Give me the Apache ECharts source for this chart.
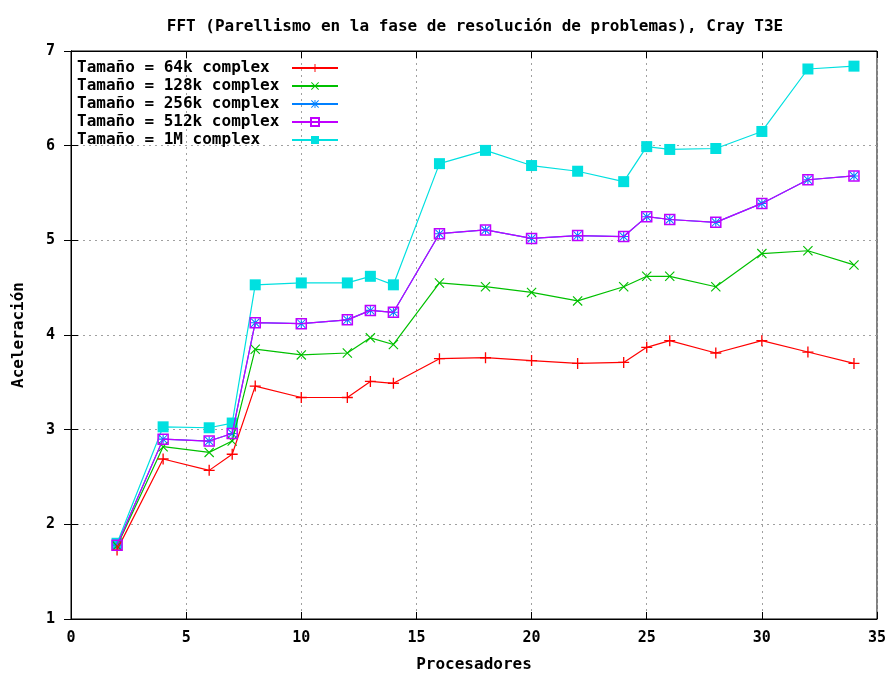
<!DOCTYPE html>
<html>
<head>
<meta charset="utf-8">
<script src="https://cdn.jsdelivr.net/npm/echarts@6/dist/echarts.min.js"></script>
<style>html,body{margin:0;padding:0;background:#fff}#c{width:891px;height:673px}</style>
</head>
<body>
<div id="c"></div>
<script>
const titleText = 'FFT (Parellismo en la fase de resolución de problemas), Cray T3E';
const xName = 'Procesadores';
const yName = 'Aceleración';
const procs = [2,4,6,7,8,10,12,13,14,16,18,20,22,24,25,26,28,30,32,34];
const names = ['Tamaño = 64k complex','Tamaño = 128k complex','Tamaño = 256k complex','Tamaño = 512k complex','Tamaño = 1M complex'];
const s64k  = [1.73,2.69,2.57,2.74,3.46,3.34,3.34,3.51,3.49,3.75,3.76,3.73,3.70,3.71,3.87,3.94,3.81,3.94,3.82,3.70];
const s128k = [1.77,2.82,2.76,2.88,3.85,3.79,3.81,3.97,3.90,4.55,4.51,4.45,4.36,4.51,4.62,4.62,4.51,4.86,4.89,4.74];
const s256k = [1.78,2.90,2.88,2.96,4.13,4.12,4.16,4.26,4.24,5.07,5.11,5.02,5.05,5.04,5.25,5.22,5.19,5.39,5.64,5.68];
const s512k = [1.78,2.90,2.88,2.96,4.13,4.12,4.16,4.26,4.24,5.07,5.11,5.02,5.05,5.04,5.25,5.22,5.19,5.39,5.64,5.68];
const s1M   = [1.80,3.03,3.02,3.07,4.53,4.55,4.55,4.62,4.53,5.81,5.95,5.79,5.73,5.62,5.99,5.96,5.97,6.15,6.81,6.84];
const xTicks = [0,5,10,15,20,25,30,35];
const yTicks = [1,2,3,4,5,6,7];

const FONT = 'DejaVu Sans Mono';
const pair = arr => procs.map((p,i)=>[p,arr[i]]);
const PLUS = 'path://M4.4,0h1.2v10h-1.2zM0,4.4h10v1.2h-10z';
const XS = 'path://M0,0.8L0.8,0L10,9.2L9.2,10ZM9.2,0L10,0.8L0.8,10L0,9.2Z';
const STAR = 'path://M4.4,0h1.2v10h-1.2zM0,4.4h10v1.2h-10zM0,0.8L0.8,0L10,9.2L9.2,10ZM9.2,0L10,0.8L0.8,10L0,9.2Z';

function mk(name, data, color, symbol, size, fill, z){
  return {
    name, type:'line', data: pair(data), symbol, symbolSize: size, z,
    lineStyle:{color, width:1.2},
    itemStyle: fill ? {color: fill, borderColor: color, borderWidth: fill==='transparent'?1.5:0} : {color, borderWidth:0},
    emphasis:{disabled:true}, animation:false
  };
}

const chart = echarts.init(document.getElementById('c'), null, {renderer:'canvas'});
const axisCommon = {
  axisLine:{show:true, lineStyle:{color:'#000', width:1}},
  axisTick:{show:true, inside:true, length:7, lineStyle:{color:'#000'}},
};
chart.setOption({
  backgroundColor:'#fff',
  animation:false,
  title:{text:titleText, left:470, textAlign:'center', top:14,
    textStyle:{fontFamily:FONT, fontSize:16, fontWeight:'bold', color:'#000'}},
  grid:{left:71, right:14, top:51, bottom:54, show:true, borderColor:'#000', borderWidth:1,
    containLabel:false, outerBoundsMode:'none'},
  legend:{
    data:names, orient:'vertical', left:72, top:55, align:'right',
    itemWidth:46, itemHeight:10, itemGap:2,
    formatter: n => '{n|' + n + '}',
    textStyle:{rich:{n:{width:210, align:'left', fontFamily:FONT, fontSize:16, fontWeight:'bold', color:'#000', lineHeight:15}}},
    inactiveColor:'#000'
  },
  xAxis:[
    Object.assign({type:'value', min:xTicks[0], max:xTicks[xTicks.length-1], interval:5, position:'bottom',
      name:xName, nameLocation:'middle', nameGap:38,
      nameTextStyle:{fontFamily:FONT, fontSize:16, fontWeight:'bold', color:'#000'},
      axisLabel:{margin:12, fontFamily:FONT, fontSize:15, fontWeight:'bold', color:'#000'},
      splitLine:{show:true, lineStyle:{color:'#a0a0a0', type:[2,4], width:1}}}, axisCommon),
    Object.assign({type:'value', min:xTicks[0], max:xTicks[xTicks.length-1], interval:5, position:'top',
      axisLabel:{show:false}, splitLine:{show:false}}, axisCommon)
  ],
  yAxis:[
    Object.assign({type:'value', min:yTicks[0], max:yTicks[yTicks.length-1], interval:1, position:'left',
      name:yName, nameLocation:'middle', nameGap:44, nameRotate:90,
      nameTextStyle:{fontFamily:FONT, fontSize:16, fontWeight:'bold', color:'#000'},
      axisLabel:{margin:16, fontFamily:FONT, fontSize:15, fontWeight:'bold', color:'#000'},
      splitLine:{show:true, lineStyle:{color:'#a0a0a0', type:[2,4], width:1}}}, axisCommon),
    Object.assign({type:'value', min:yTicks[0], max:yTicks[yTicks.length-1], interval:1, position:'right',
      axisLabel:{show:false}, splitLine:{show:false}}, axisCommon)
  ],
  series:[
    mk(names[0], s64k, '#ff0000', PLUS, 11, null, 5),
    mk(names[1], s128k, '#00c000', XS, 10, null, 4),
    mk(names[2], s256k, '#0080ff', STAR, 9, null, 3),
    mk(names[3], s512k, '#c000ff', 'rect', 10, 'transparent', 6),
    mk(names[4], s1M, '#00e0e0', 'rect', 11, null, 2)
  ]
});
</script>
</body>
</html>
